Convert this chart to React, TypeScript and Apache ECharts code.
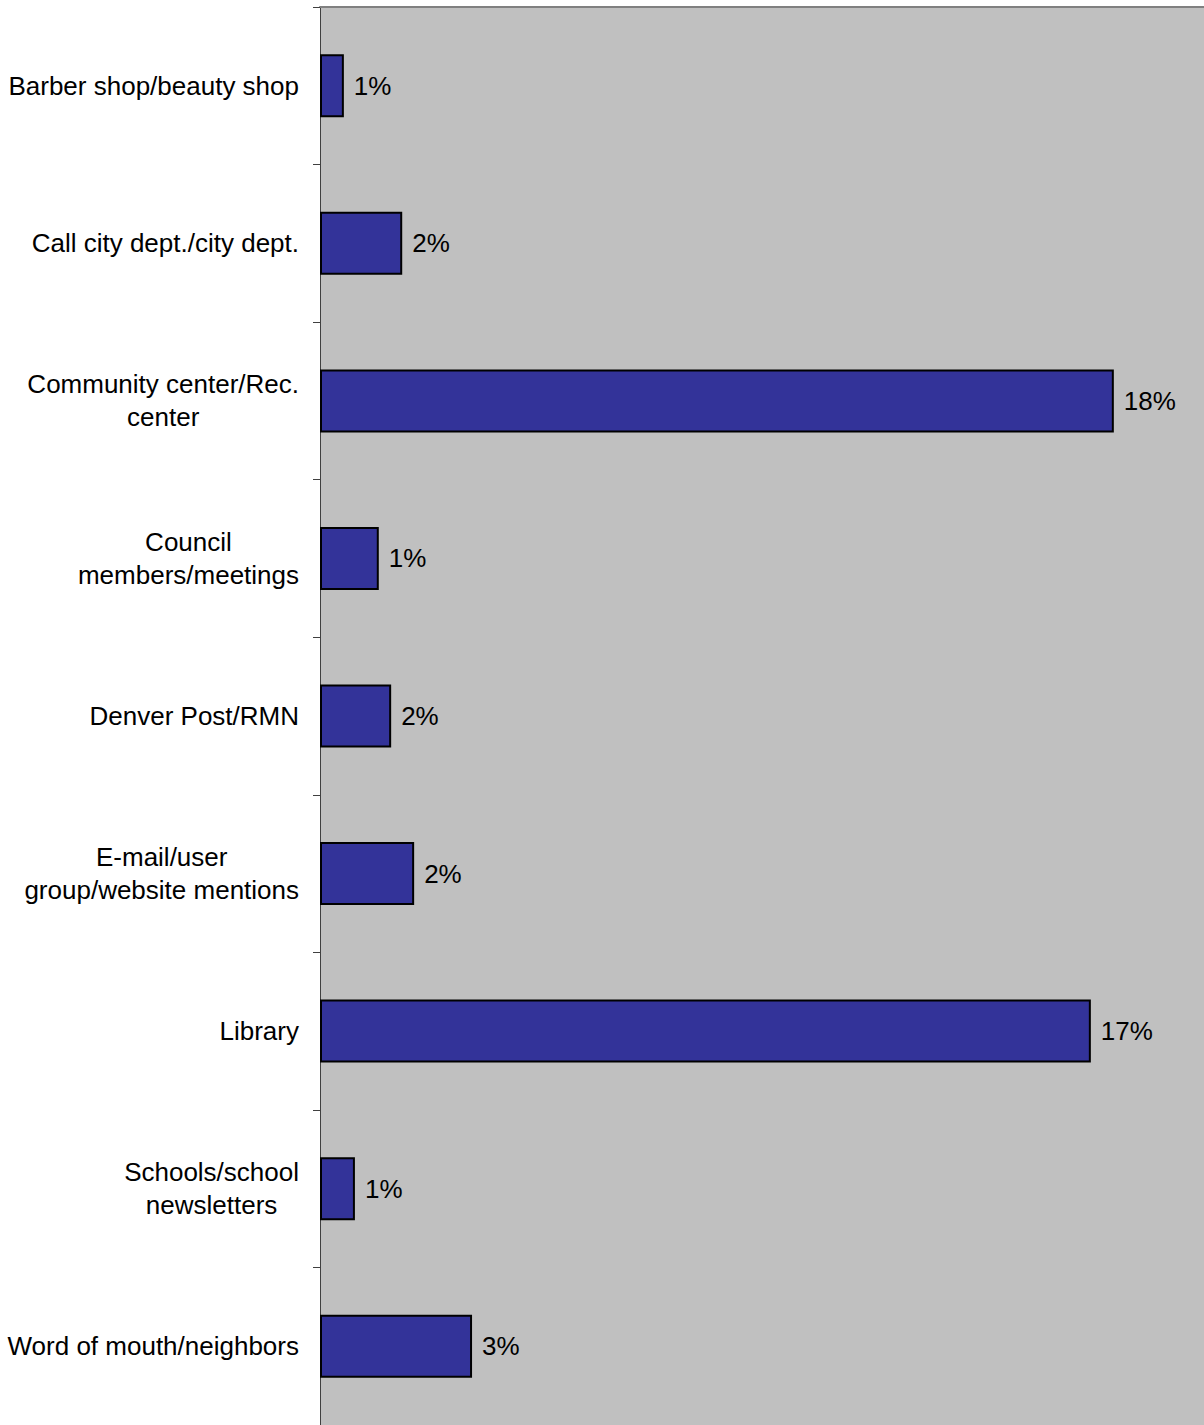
import React, { useEffect, useRef } from "react";
import * as echarts from "echarts";

const categories: string[] = [
  "Barber shop/beauty shop",
  "Call city dept./city dept.",
  "Community center/Rec.\ncenter",
  "Council\nmembers/meetings",
  "Denver Post/RMN",
  "E-mail/user\ngroup/website mentions",
  "Library",
  "Schools/school\nnewsletters",
  "Word of mouth/neighbors",
];

// percent values
const values: number[] = [0.54, 1.86, 17.96, 1.33, 1.61, 2.13, 17.44, 0.79, 3.44];

const xMin = 0;
const xMax = 20;

const FONT = "'Liberation Sans', Arial, sans-serif";

export default function App() {
  const ref = useRef<HTMLDivElement>(null);
  useEffect(() => {
    if (!ref.current) return;
    const chart = echarts.init(ref.current, undefined, { renderer: "svg" });
    chart.setOption({
      animation: false,
      backgroundColor: "#ffffff",
      grid: {
        left: 320,
        top: 7,
        right: 0,
        bottom: 0,
        show: true,
        backgroundColor: "#C0C0C0",
        borderWidth: 0,
      },
      xAxis: {
        type: "value",
        position: "top",
        min: xMin,
        max: xMax,
        axisLine: { show: true, lineStyle: { color: "#808080", width: 2 } },
        axisTick: { show: false },
        axisLabel: { show: false },
        splitLine: { show: false },
      },
      yAxis: {
        type: "category",
        data: categories,
        inverse: true,
        axisLine: { show: true, lineStyle: { color: "#404040", width: 1 } },
        axisTick: { show: true, inside: false, length: 7, lineStyle: { color: "#404040", width: 1 } },
        axisLabel: {
          margin: 21,
          color: "#000000",
          fontSize: 26,
          fontFamily: FONT,
          lineHeight: 33,
          formatter: (v: string) =>
            v.includes("\n")
              ? v
                  .split("\n")
                  .map((l) => `{c|${l}}`)
                  .join("\n")
              : v,
          rich: {
            c: {
              align: "center",
              fontSize: 26,
              fontFamily: FONT,
              color: "#000000",
              lineHeight: 33,
            },
          },
        },
      },
      series: [
        {
          type: "bar",
          data: values,
          barWidth: 63,
          itemStyle: { color: "#333399", borderColor: "#000000", borderWidth: 2 },
          label: {
            show: true,
            position: "right",
            distance: 10,
            color: "#000000",
            fontSize: 26,
            fontFamily: FONT,
            formatter: (p: any) => Math.round(p.value) + "%",
          },
        },
      ],
    });
    return () => chart.dispose();
  }, []);
  return (
    <div
      ref={ref}
      style={{ position: "absolute", left: 0, top: 0, width: 1204, height: 1425 }}
    />
  );
}
